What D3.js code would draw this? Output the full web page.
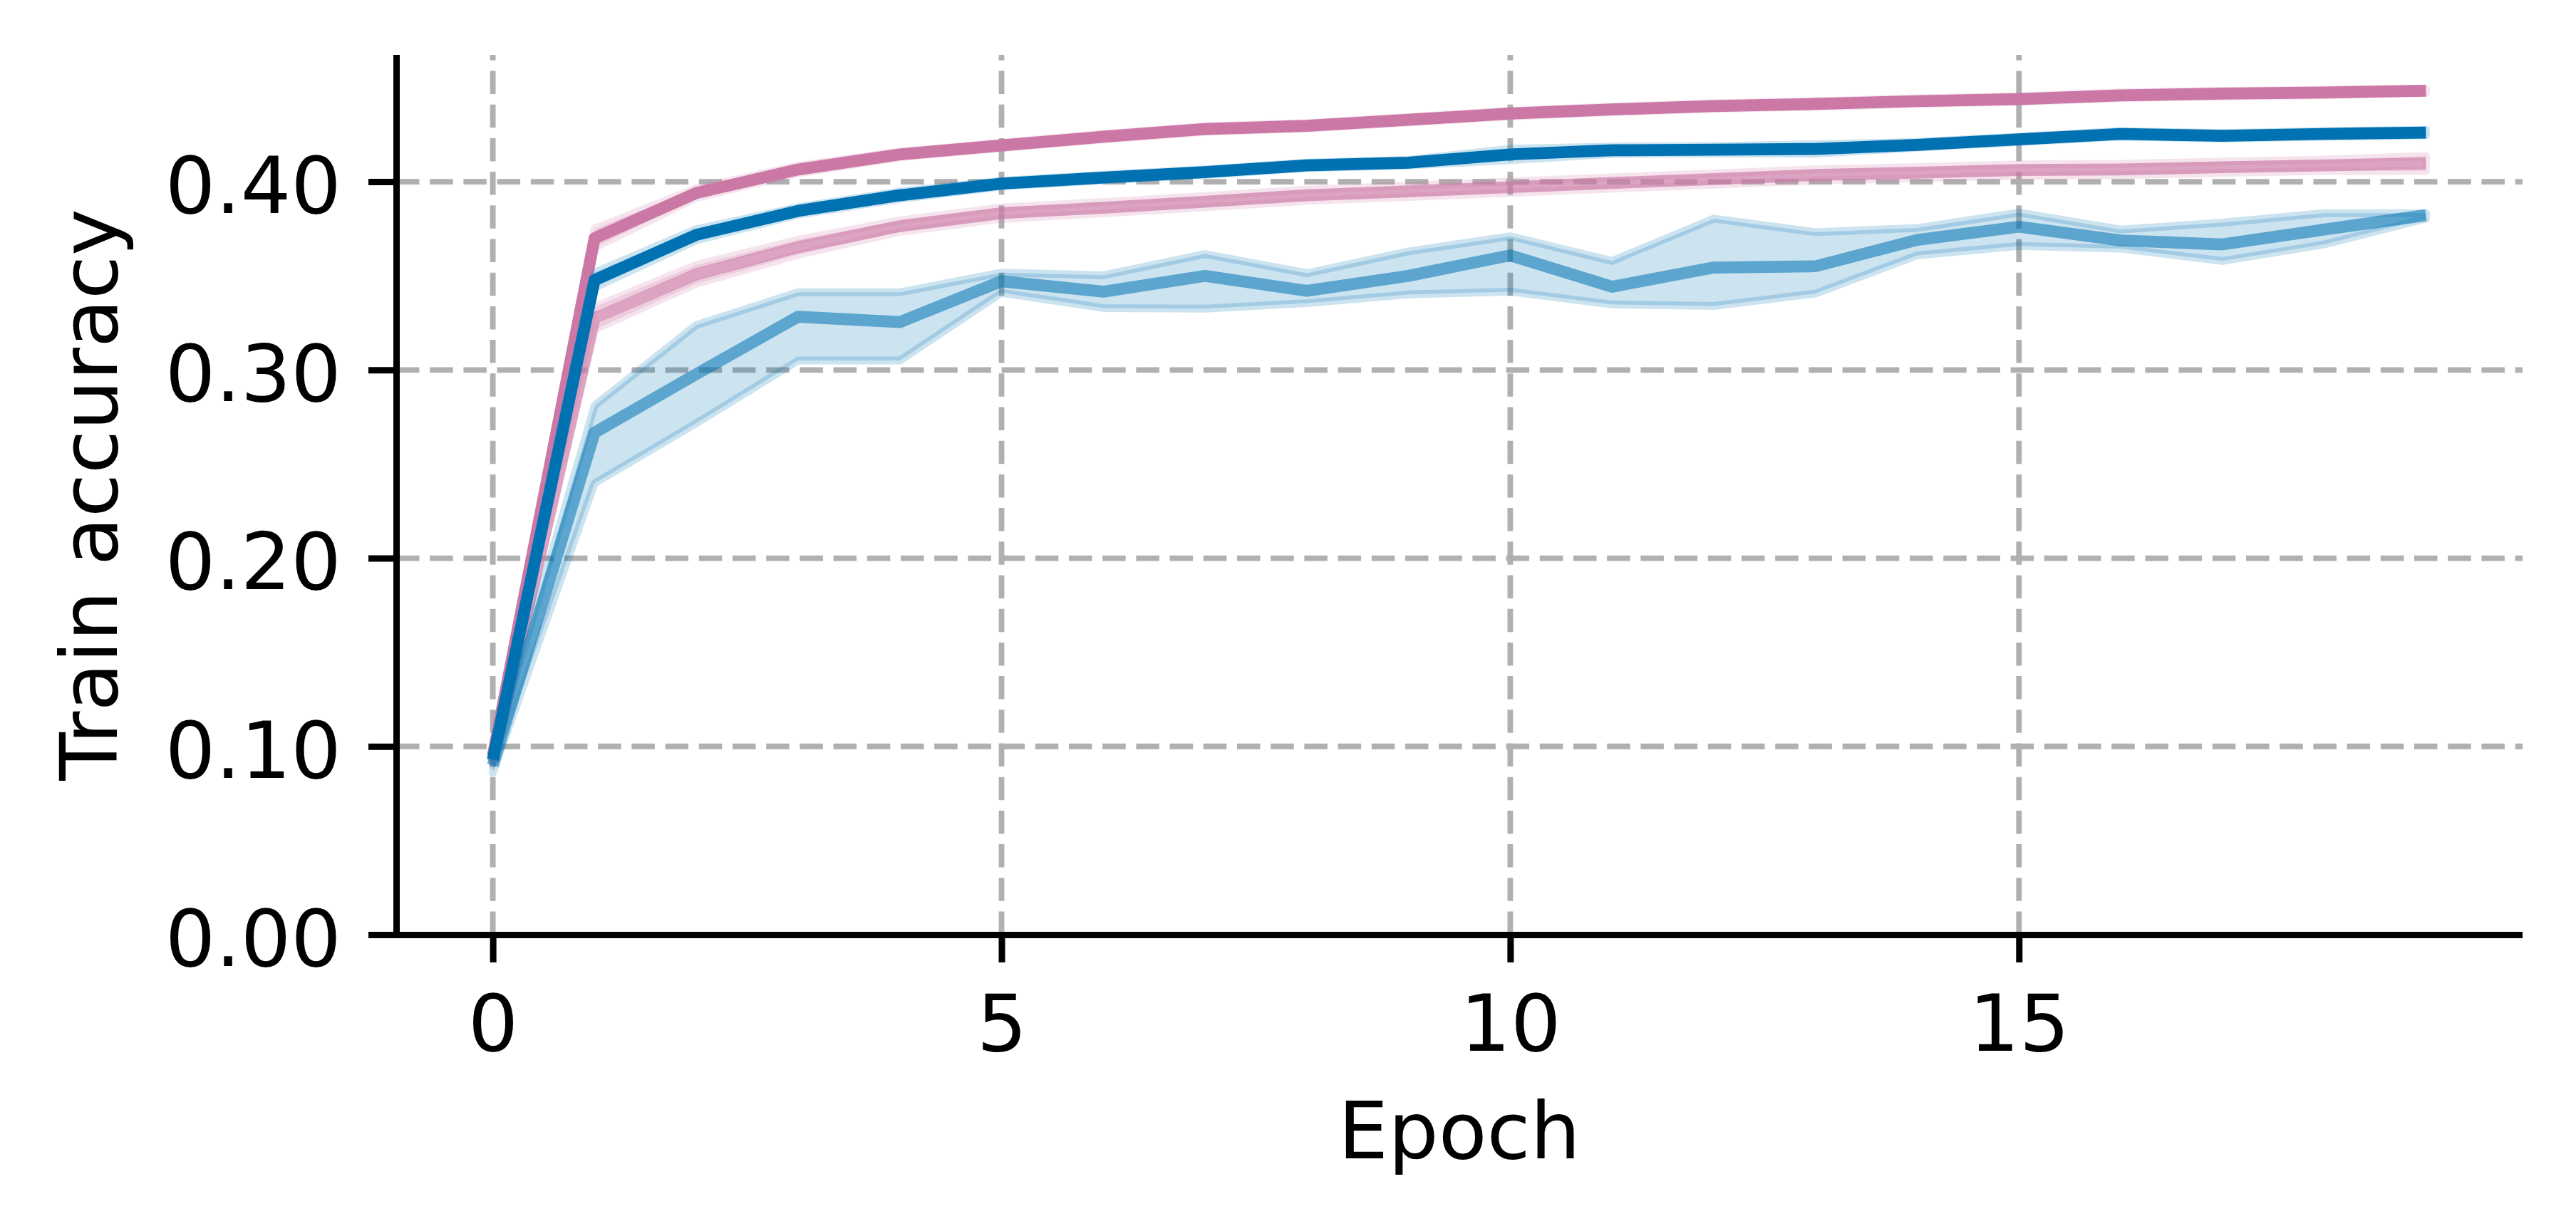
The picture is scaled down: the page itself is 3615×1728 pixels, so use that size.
<!DOCTYPE html>
<html>
<head>
<meta charset="utf-8">
<script src="https://cdn.jsdelivr.net/npm/d3@7"></script>
<style>
  html, body { margin: 0; padding: 0; background: #ffffff; }
  svg { display: block; }
  text { font-family: "DejaVu Sans", sans-serif; }
</style>
</head>
<body>
<svg id="chart" width="3615" height="1728"></svg>
<script>
// ---------------- data ----------------
const epochs = [0,1,2,3,4,5,6,7,8,9,10,11,12,13,14,15,16,17,18,19];

const xTicks = [0, 5, 10, 15];
const yTicks = [0.0, 0.1, 0.2, 0.3, 0.4];

// solid pink run
const pinkMain   = [0.095,0.370,0.394,0.4065,0.4145,0.4193,0.4239,0.428,0.4297,0.4329,0.4362,0.4384,0.4402,0.4413,0.4428,0.4439,0.4459,0.4468,0.4474,0.4483];
const pinkSpread = [0.002,0.005,0.0025,0.002,0.0015,0.0015,0.0015,0.0015,0.0015,0.0015,0.0015,0.0015,0.0015,0.0015,0.0015,0.0015,0.0015,0.0015,0.0015,0.001];

// solid blue run
const blueMain   = [0.093,0.3478,0.3718,0.3845,0.3928,0.399,0.4022,0.4051,0.4087,0.4101,0.4145,0.4167,0.417,0.4174,0.4196,0.4225,0.4254,0.4244,0.4254,0.4261];
const blueSpread = [0.002,0.004,0.003,0.002,0.002,0.0015,0.0015,0.0015,0.0015,0.0015,0.003,0.002,0.002,0.0025,0.0015,0.0015,0.0015,0.0015,0.0015,0.0015];

// faded pink run
const lightPink       = [0.092,0.3275,0.3508,0.3652,0.3764,0.3833,0.3862,0.3894,0.3928,0.3949,0.3971,0.3993,0.4014,0.4036,0.4048,0.4062,0.4065,0.4077,0.4087,0.4097];
const lightPinkSpread = [0.002,0.006,0.005,0.004,0.003,0.003,0.003,0.003,0.003,0.003,0.003,0.003,0.003,0.003,0.003,0.003,0.003,0.003,0.003,0.004];

// faded blue run with its band
const lightBlue   = [0.090,0.2667,0.2978,0.3283,0.3254,0.3471,0.3416,0.35,0.342,0.35,0.3609,0.3442,0.3544,0.3551,0.3691,0.3761,0.3688,0.3667,0.3746,0.3822];
const lightBlueLo = [0.086,0.2398,0.2717,0.305,0.305,0.341,0.3329,0.3326,0.3355,0.3401,0.3416,0.3348,0.334,0.3406,0.3609,0.3659,0.3645,0.3579,0.3667,0.3804];
const lightBlueHi = [0.095,0.2811,0.3239,0.3413,0.3413,0.3517,0.3503,0.3616,0.3514,0.363,0.371,0.3579,0.3804,0.3732,0.3754,0.3836,0.3746,0.3783,0.3833,0.3833];

const PINK = "#CC79A7";
const BLUE = "#0072B2";

// ---------------- layout ----------------
const svg = d3.select("#chart");
const L = 556, R = 3540, T = 77, B = 1312;
const FS = 111;

const x = d3.scaleLinear().domain([-0.95, 19.95]).range([L, R]);
const y = d3.scaleLinear().domain([0, 0.4674]).range([B, T]);

// grid
const grid = svg.append("g");
grid.selectAll("line.gy").data(yTicks.filter(d => d > 0)).join("line")
  .attr("x1", L).attr("x2", R)
  .attr("y1", d => y(d)).attr("y2", d => y(d))
  .attr("stroke", "#b0b0b0").attr("stroke-width", 7.8)
  .attr("stroke-dasharray", "32.5,14.7");
grid.selectAll("line.gx").data(xTicks).join("line")
  .attr("x1", d => x(d)).attr("x2", d => x(d))
  .attr("y1", B).attr("y2", T)
  .attr("stroke", "#b0b0b0").attr("stroke-width", 7.8)
  .attr("stroke-dasharray", "32.5,14.7");

// series definitions (drawing order: faded first, solid on top)
const toRows = (mid, lo, hi) => epochs.map((e, i) => ({e, m: mid[i], lo: lo[i], hi: hi[i]}));
const series = [
  {rows: toRows(lightPink, lightPink.map((v,i)=>v-lightPinkSpread[i]), lightPink.map((v,i)=>v+lightPinkSpread[i])), color: PINK, lineOpacity: 0.6},
  {rows: toRows(lightBlue, lightBlueLo, lightBlueHi), color: BLUE, lineOpacity: 0.55},
  {rows: toRows(pinkMain, pinkMain.map((v,i)=>v-pinkSpread[i]), pinkMain.map((v,i)=>v+pinkSpread[i])), color: PINK, lineOpacity: 1},
  {rows: toRows(blueMain, blueMain.map((v,i)=>v-blueSpread[i]), blueMain.map((v,i)=>v+blueSpread[i])), color: BLUE, lineOpacity: 1}
];

const area = d3.area().x(d => x(d.e)).y0(d => y(d.lo)).y1(d => y(d.hi));
const line = d3.line().x(d => x(d.e)).y(d => y(d.m));

const plot = svg.append("g");
series.forEach(s => {
  plot.append("path").datum(s.rows)
    .attr("d", line)
    .attr("fill", "none")
    .attr("stroke", s.color)
    .attr("stroke-opacity", s.lineOpacity)
    .attr("stroke-width", 16.7)
    .attr("stroke-linejoin", "round")
    .attr("stroke-linecap", "butt");
  plot.append("path").datum(s.rows)
    .attr("d", area)
    .attr("fill", s.color).attr("fill-opacity", 0.2)
    .attr("stroke", s.color).attr("stroke-opacity", 0.2)
    .attr("stroke-width", 11)
    .attr("stroke-linejoin", "round");
});

// axes
const xAxis = d3.axisBottom(x).tickValues(xTicks).tickFormat(d3.format("d"))
  .tickSize(39).tickSizeOuter(0).tickPadding(45);
const yAxis = d3.axisLeft(y).tickValues(yTicks).tickFormat(d3.format(".2f"))
  .tickSize(39).tickSizeOuter(0).tickPadding(38);

const gx = svg.append("g").attr("transform", `translate(0,${B})`).call(xAxis);
const gy = svg.append("g").attr("transform", `translate(${L},0)`).call(yAxis);

[gx, gy].forEach(g => {
  g.select(".domain").attr("stroke", "#000").attr("stroke-width", 9);
  g.selectAll(".tick line").attr("stroke", "#000").attr("stroke-width", 9);
  g.selectAll(".tick text").attr("fill", "#000")
    .style("font-size", FS + "px").style("font-family", "'DejaVu Sans', sans-serif");
});
gy.selectAll(".tick text").attr("dy", "0.39em");
gx.select(".domain").attr("d", `M${L},0.5H${R}`);
gy.select(".domain").attr("d", `M0.5,${B}V${T}`);

// axis labels
svg.append("text").attr("x", (L + R) / 2).attr("y", 1626)
  .attr("text-anchor", "middle").style("font-size", FS + "px").attr("fill", "#000")
  .text("Epoch");
svg.append("text").attr("transform", `translate(164,${(T + B) / 2}) rotate(-90)`)
  .attr("text-anchor", "middle").style("font-size", FS + "px").attr("fill", "#000")
  .text("Train accuracy");
</script>
</body>
</html>
